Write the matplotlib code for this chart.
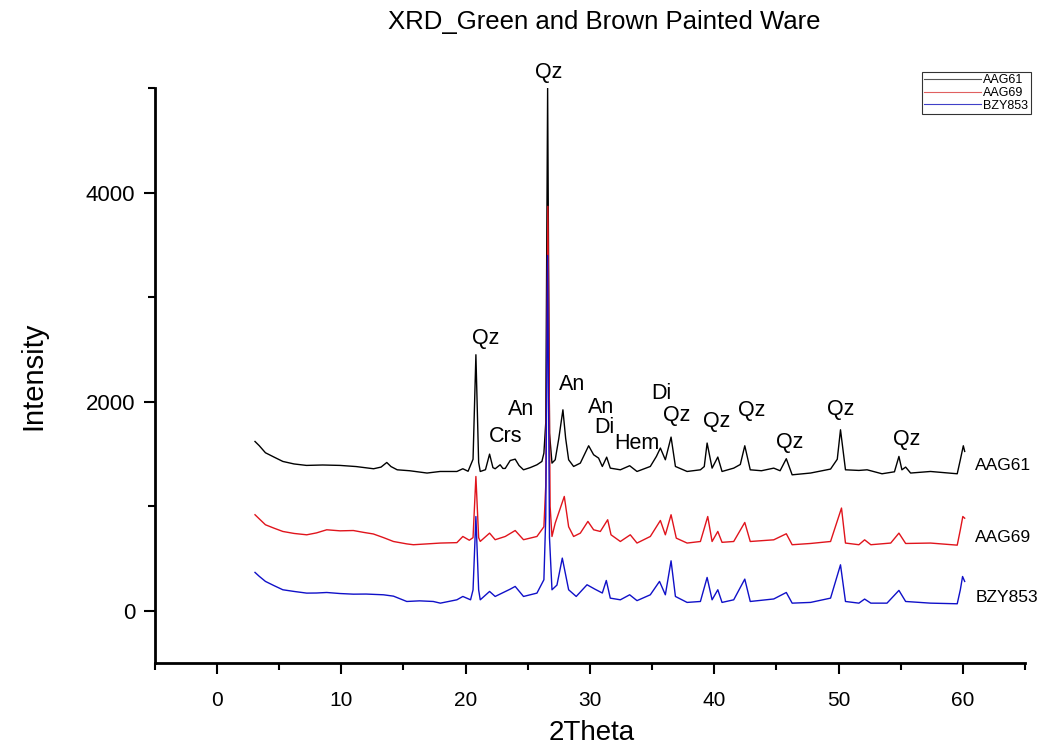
import matplotlib
matplotlib.use('Agg')
import matplotlib.pyplot as plt
from matplotlib.ticker import MultipleLocator

tt_aag61 = [3.06, 3.4, 3.9, 4.6, 5.3, 6.2, 7.2, 8.5, 9.9, 11.2, 12.6, 13.2, 13.66, 14.0, 14.5,
            15.5, 16.9, 17.95, 19.3, 19.78, 20.2, 20.6, 20.83, 21.05, 21.18, 21.6, 21.93, 22.2,
            22.38, 22.78, 23.0, 23.19, 23.59, 23.99, 24.3, 24.66, 25.2, 25.74, 26.14, 26.3, 26.45,
            26.6, 26.75, 26.95, 27.21, 27.5, 27.83, 28.05, 28.29, 28.69, 29.23, 29.9, 30.3, 30.7,
            31.0, 31.35, 31.64, 32.45, 33.2, 33.79, 34.86, 35.35, 35.67, 36.07, 36.53, 36.88,
            37.82, 38.89, 39.2, 39.43, 39.83, 40.29, 40.63, 41.57, 42.1, 42.46, 42.9, 43.8, 44.79,
            45.3, 45.8, 46.27, 47.75, 49.36, 49.9, 50.16, 50.56, 51.64, 52.3, 53.5, 54.5, 54.86,
            55.1, 55.4, 55.8, 57.4, 59.55, 59.8, 60.04, 60.15]
i_aag61 = [1620, 1580, 1512, 1470, 1429, 1405, 1391, 1395, 1391, 1380, 1359, 1375, 1419, 1380, 1349,
           1340, 1318, 1333, 1333, 1359, 1335, 1450, 2450, 1420, 1333, 1350, 1499, 1370,
           1359, 1397, 1362, 1362, 1438, 1451, 1390, 1349, 1370, 1397, 1429, 1509, 1800,
           5000, 1700, 1413, 1445, 1650, 1923, 1650, 1445, 1381, 1413, 1579, 1493, 1461,
           1381, 1470, 1365, 1349, 1388, 1333, 1381, 1477, 1557, 1445, 1662, 1381,
           1333, 1349, 1380, 1605, 1365, 1471, 1333, 1365, 1400, 1579, 1349, 1340, 1365,
           1340, 1455, 1301, 1318, 1356, 1450, 1732, 1349, 1343, 1349, 1311, 1330, 1477,
           1349, 1375, 1318, 1333, 1311, 1445, 1579, 1525]

tt_aag69 = [3.06, 3.4, 3.9, 4.6, 5.3, 6.2, 7.22, 8.0, 8.83, 9.9, 10.97, 11.8, 12.58, 13.4, 14.2,
            15.27, 15.8, 16.9, 17.97, 19.3, 19.78, 20.3, 20.6, 20.83, 21.05, 21.18, 21.93, 22.38,
            23.19, 23.99, 24.66, 25.74, 26.3, 26.45, 26.62, 26.8, 26.95, 27.21, 27.94, 28.29,
            28.69, 29.23, 29.84, 30.3, 30.84, 31.43, 31.7, 32.45, 33.25, 33.79, 34.86, 35.67,
            36.07, 36.53, 36.95, 37.82, 38.89, 39.48, 39.83, 40.29, 40.63, 41.57, 42.46, 42.9,
            44.79, 45.8, 46.27, 47.75, 49.36, 50.24, 50.56, 51.64, 52.1, 52.6, 54.2, 54.86, 55.4,
            57.4, 59.55, 59.8, 60.0, 60.15]
i_aag69 = [919, 880, 823, 790, 759, 740, 727, 745, 775, 765, 768, 750, 735, 700, 663,
           640, 632, 640, 648, 652, 711, 675, 700, 1285, 700, 664, 743, 680,
           711, 768, 680, 711, 804, 1200, 3870, 1000, 711, 839, 1094, 804,
           711, 743, 855, 775, 759, 871, 727, 663, 727, 648, 711, 864,
           727, 919, 695, 648, 663, 902, 663, 759, 655, 663, 845, 663,
           679, 737, 632, 644, 663, 983, 648, 632, 679, 632, 648, 743, 644,
           648, 628, 775, 902, 886]

tt_bzy853 = [3.06, 3.4, 3.9, 4.6, 5.3, 6.2, 7.22, 8.0, 8.83, 9.9, 10.97, 12.0, 13.39, 14.2, 15.27,
             16.3, 17.4, 17.97, 19.3, 19.78, 20.4, 20.6, 20.83, 21.05, 21.18, 21.93, 22.38, 23.59,
             23.99, 24.66, 25.74, 26.3, 26.45, 26.6, 26.75, 26.95, 27.35, 27.78, 28.29, 28.9,
             29.77, 30.4, 31.0, 31.32, 31.64, 32.45, 33.2, 33.79, 34.86, 35.6, 36.07, 36.53, 36.88,
             37.82, 38.89, 39.43, 39.83, 40.29, 40.63, 41.57, 42.46, 42.9, 44.79, 45.8, 46.27,
             47.75, 49.36, 50.16, 50.56, 51.64, 52.1, 52.6, 53.9, 54.86, 55.4, 57.4, 59.55, 59.8,
             59.98, 60.15]
i_bzy853 = [367, 330, 281, 240, 201, 185, 169, 170, 175, 165, 159, 160, 153, 140, 89,
            95, 89, 73, 105, 137, 105, 200, 902, 200, 105, 185, 137, 207,
            233, 137, 169, 297, 900, 3400, 700, 201, 246, 504, 201, 137,
            249, 207, 170, 290, 121, 105, 153, 97, 153, 281, 153, 478, 137,
            80, 89, 319, 105, 201, 80, 105, 303, 89, 113, 175, 73,
            80, 121, 440, 89, 73, 112, 73, 73, 195, 89, 73, 67, 201,
            328, 281]

# annotations des phases : (texte, 2theta, intensite)
phase_labels = [("Qz", 26.7, 5150), ("Qz", 21.6, 2610), ("Crs", 23.2, 1665), ("An", 24.5, 1925),
                ("An", 28.6, 2165), ("An", 30.9, 1945), ("Di", 31.2, 1755), ("Hem", 33.8, 1600),
                ("Di", 35.75, 2080), ("Qz", 37.0, 1865), ("Qz", 40.2, 1810), ("Qz", 43.0, 1915),
                ("Qz", 46.1, 1615), ("Qz", 50.2, 1925), ("Qz", 55.5, 1635)]

sample_names = ["AAG61", "AAG69", "BZY853"]
sample_label_y = [1390, 700, 125]
colors = ['black', '#e0141c', '#1010c8']

plt.rcParams['font.family'] = ['Liberation Sans', 'DejaVu Sans']

fig = plt.figure(figsize=(10.39, 7.48), dpi=100)
ax = fig.add_axes([0.149, 0.1136, 0.8375, 0.7684])

series = [(tt_aag61, i_aag61), (tt_aag69, i_aag69), (tt_bzy853, i_bzy853)]
lines = []
for (tt, ii), c, name in zip(series, colors, sample_names):
    ln, = ax.plot(tt, ii, color=c, lw=1.0, label=name)
    lines.append(ln)

for txt, x, y in phase_labels:
    ax.text(x, y, txt, ha='center', va='center', fontsize=15.5)

for name, y in zip(sample_names, sample_label_y):
    ax.text(61.0, y, name, ha='left', va='center', fontsize=12.5)

ax.set_xlim(-5, 65)
ax.set_ylim(-500, 5000)
ax.xaxis.set_major_locator(MultipleLocator(10))
ax.xaxis.set_minor_locator(MultipleLocator(5))
ax.yaxis.set_major_locator(MultipleLocator(2000))
ax.yaxis.set_minor_locator(MultipleLocator(1000))
ax.tick_params(which='major', length=8, width=1.5)
ax.tick_params(which='minor', length=5, width=1.5)
ax.tick_params(axis='x', labelsize=15, pad=12)
ax.tick_params(axis='y', labelsize=16, pad=6)
for s in ['top', 'right']:
    ax.spines[s].set_visible(False)
for s in ['left', 'bottom']:
    ax.spines[s].set_linewidth(2)

ax.set_ylabel("Intensity", fontsize=21, labelpad=28)
fig.text(0.569, 1 - 733 / 748, "2Theta", ha='center', va='center', fontsize=20)

fig.text(0.582, 0.971, "XRD_Green and Brown Painted Ware", ha='center', va='center', fontsize=18.5)

leg = ax.legend(handles=lines, loc='upper right', bbox_to_anchor=(0.992, 0.904),
                bbox_transform=fig.transFigure, fontsize=9, frameon=True, fancybox=False,
                handlelength=4.5, handletextpad=0.2, borderpad=0.2, labelspacing=0.05,
                borderaxespad=0)
leg.get_frame().set_edgecolor('black')
leg.get_frame().set_linewidth(0.8)
for lh, c in zip(leg.get_lines(), ['#555555', '#e06060', '#4040c8']):
    lh.set_color(c)
    lh.set_linewidth(0.8)

fig.savefig('out.png', dpi=100)
